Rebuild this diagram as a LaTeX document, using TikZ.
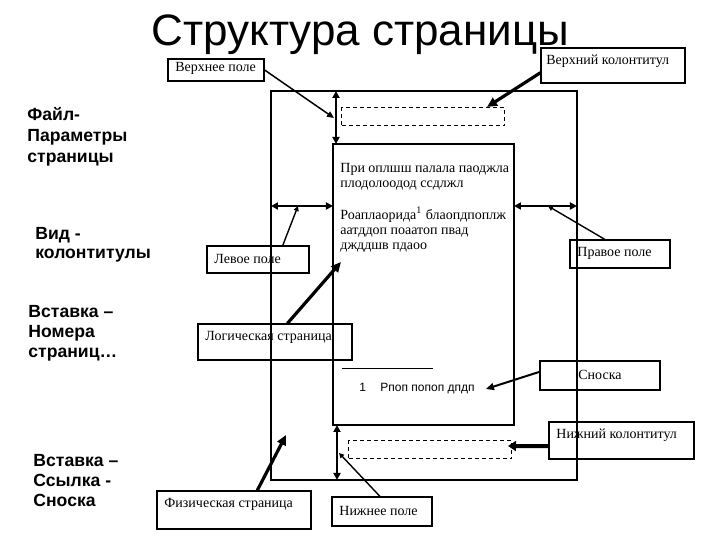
\documentclass[tikz,border=0pt]{standalone}
\usepackage{fontspec}
\setmainfont{Liberation Serif}
\newfontfamily\arialf{Liberation Sans}
\usetikzlibrary{arrows.meta,fit,calc}
\begin{document}
\begin{tikzpicture}[x=0.5pt,y=-0.5pt,
  box/.style={draw, line width=0.6pt, inner sep=0pt},
  dashbox/.style={draw, line width=0.5pt, inner sep=0pt, dash pattern=on 2pt off 1.5pt},
  ser/.style={font=\fontsize{7}{8}\selectfont, inner sep=0pt, anchor=base west},
  bsans/.style={inner sep=0pt, anchor=base west, align=left},
  dbl/.style={line width=1.2pt, {Triangle[length=3.5pt,width=3.5pt]}-{Triangle[length=3.5pt,width=3.5pt]}},
  thinarr/.style={line width=0.75pt, -{Triangle[length=3.5pt,width=3pt]}},
  smallarr/.style={line width=0.7pt, -{Triangle[length=2.5pt,width=2.5pt]}},
  bigarr/.style={line width=1.6pt, -{Triangle[length=5pt,width=4.5pt]}}
]
\useasboundingbox (0,0) rectangle (720,540);

% title
\node[font=\arialf\fontsize{22}{24}\selectfont, anchor=base west, inner sep=0pt] (title) at (151,46) {Структура страницы};

% left menu labels (anchored at the baseline of the last line)
\node[bsans, font=\arialf\bfseries\fontsize{8.8}{10.5}\selectfont] (m1) at (27,163) {Файл-\\Параметры\\страницы};
\node[bsans, font=\arialf\bfseries\fontsize{8.8}{9.5}\selectfont] (m2) at (35,259) {Вид -\\колонтитулы};
\node[bsans, font=\arialf\bfseries\fontsize{8.8}{10}\selectfont] (m3) at (28,358) {Вставка –\\Номера\\страниц…};
\node[bsans, font=\arialf\bfseries\fontsize{8.8}{10}\selectfont] (m4) at (33,507) {Вставка –\\Ссылка -\\Сноска};

% pages
\node[box, line width=0.7pt, fit={(271,91)(577,480)}] (phys) {};
\node[box, line width=0.7pt, fit={(333,144)(514,425)}] (logic) {};
\node[dashbox, fit={(342,108)(505,126)}] (hdr) {};
\node[dashbox, fit={(349,441)(512,459)}] (ftr) {};

% body text
\node[ser] (t1) at (340,173) {При оплшш палала паоджла};
\node[ser] (t2) at (340,188) {плодолоодод ссдлжл};
\node[ser] (t3) at (340,220) {Роаплаорида\textsuperscript{1} блаопдпоплж};
\node[ser] (t4) at (340,235) {аатддоп поаатоп пвад};
\node[ser] (t5) at (340,250) {джддшв пдаоо};

% footnote
\coordinate (fnA) at (342,369);
\coordinate (fnB) at (433,369);
\draw[line width=0.5pt] (fnA) -- (fnB);
\node[font=\arialf\fontsize{6}{7}\selectfont, inner sep=0pt, anchor=base west] (fn1) at (359,392) {1};
\node[font=\arialf\fontsize{6}{7}\selectfont, inner sep=0pt, anchor=base west] (fnT) at (380,392) {Рпоп попоп дпдп};

% margin double arrows
\coordinate (mt1) at (336,91);  \coordinate (mt2) at (336,144);
\coordinate (mb1) at (337,425); \coordinate (mb2) at (337,480);
\coordinate (ml1) at (271,206); \coordinate (ml2) at (333,206);
\coordinate (mr1) at (514,206); \coordinate (mr2) at (577,206);
\draw[dbl] (mt1) -- (mt2);
\draw[dbl] (mb1) -- (mb2);
\draw[dbl] (ml1) -- (ml2);
\draw[dbl] (mr1) -- (mr2);

% label boxes
\node[box, fit={(168,59)(264,81)}] (vp) {};
\node[ser] (vpT) at (175,72) {Верхнее поле};
\node[box, fit={(541,48)(685,83)}] (vk) {};
\node[ser] (vkT) at (546,65) {Верхний колонтитул};
\node[box, fit={(207,246)(309,273)}] (lp) {};
\node[ser] (lpT) at (214,264) {Левое поле};
\node[box, fit={(570,240)(670,268)}] (pp) {};
\node[ser] (ppT) at (577,257) {Правое поле};
\node[box, fit={(198,324)(352,360)}] (lg) {};
\node[ser] (lgT) at (205,341) {Логическая страница};
\node[box, fit={(540,361)(660,390)}] (sn) {};
\node[ser, anchor=base] (snT) at (600,380) {Сноска};
\node[box, fit={(549,422)(694,459)}] (nk) {};
\node[ser] (nkT) at (556,439) {Нижний колонтитул};
\node[box, fit={(157,491)(311,529)}] (fs) {};
\node[ser] (fsT) at (164,508) {Физическая страница};
\node[box, fit={(332,497)(432,526)}] (np) {};
\node[ser] (npT) at (339,516) {Нижнее поле};

% targets
\coordinate (tmv) at (334,118);
\coordinate (hdrP) at (487,107);
\coordinate (lmid) at (298,206);
\coordinate (rmid) at (548,206);
\coordinate (lgP) at (341,262);
\coordinate (snP) at (486,389);
\coordinate (ftrP) at (508,446);
\coordinate (fsP) at (286,435);
\coordinate (bmid) at (339,453);

% connectors
\draw[thinarr] (vp.east) -- (tmv);
\draw[bigarr] ($(vk.north west)!0.7!(vk.south west)$) -- (hdrP);
\draw[smallarr] ($(lp.north west)!0.74!(lp.north east)$) -- (lmid);
\draw[smallarr] ($(pp.north west)!0.35!(pp.north east)$) -- (rmid);
\draw[bigarr] ($(lg.north west)!0.58!(lg.north east)$) -- (lgP);
\draw[line width=1pt, -{Triangle[length=4pt,width=3.5pt]}] ($(sn.north west)!0.38!(sn.south west)$) -- (snP);
\draw[line width=2pt, -{Triangle[length=4pt,width=5pt]}] ($(nk.north west)!0.65!(nk.south west)$) -- (ftrP);
\draw[bigarr] ($(fs.north west)!0.65!(fs.north east)$) -- (fsP);
\draw[smallarr] ($(np.north west)!0.48!(np.north east)$) -- (bmid);
\end{tikzpicture}
\end{document}
